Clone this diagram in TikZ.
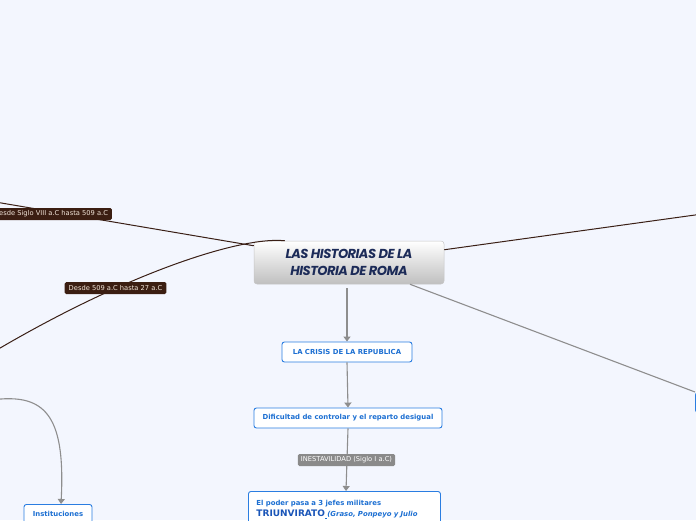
\documentclass[tikz,border=0pt]{standalone}
\usepackage{fontspec}
\setmainfont{DejaVu Sans}
\newfontfamily\titlefont[LetterSpace=-4]{Poppins}
\usetikzlibrary{arrows.meta,calc}
\definecolor{bg}{HTML}{F3F6FE}
\definecolor{brownline}{HTML}{3A1F16}
\definecolor{labelbrown}{HTML}{3B1E12}
\definecolor{labeltext}{HTML}{F2E6DA}
\definecolor{grayline}{HTML}{8E8E8E}
\definecolor{graylabel}{HTML}{8A8A8A}
\definecolor{blueb}{HTML}{2A7DE1}
\definecolor{bluet}{HTML}{1C6FD2}
\definecolor{bluedark}{HTML}{1A55B8}
\definecolor{navy}{HTML}{1C2B58}
\tikzset{
  central/.style={rounded corners=3pt, draw=gray!45, line width=0.5pt, top color=white, bottom color=gray!50,
    minimum width=190pt, minimum height=43pt, align=center, text=navy,
    font=\titlefont\bfseries\itshape\fontsize{13}{17.5}\selectfont},
  bluebox/.style={rounded corners=2.5pt, draw=blueb, line width=0.9pt, fill=white, text=bluet,
    minimum height=20pt, inner sep=0pt, font=\bfseries\fontsize{6.9}{8}\selectfont},
  brownlabel/.style={rounded corners=1.5pt, fill=labelbrown, text=labeltext, inner xsep=4pt, inner ysep=0pt,
    minimum height=12pt, font=\fontsize{6.7}{7.5}\selectfont},
  graylabelbox/.style={rounded corners=1.5pt, fill=graylabel, text=white, inner xsep=3pt, inner ysep=0pt,
    minimum height=12pt, font=\fontsize{6.7}{7.5}\selectfont},
  brownedge/.style={draw=brownline, line width=1pt},
  grayedge/.style={draw=grayline, line width=1.1pt},
  grayarrow/.style={grayedge, -{Triangle[length=5pt,width=7pt]}},
}
\begin{document}
\begin{tikzpicture}[x=1pt,y=-1pt]
\useasboundingbox (0,0) rectangle (696,520);
\fill[bg] (0,0) rectangle (696,520);

% off-screen ends
\coordinate (leftA) at (-40,196);
\coordinate (leftB) at (-20,360);
\coordinate (rightA) at (760,206);
\coordinate (leftC) at (-30,404);

% nodes
\node[central] (c) at (349,262.5) {LAS HISTORIAS DE LA\\HISTORIA DE ROMA};
\node[bluebox, minimum width=130pt] (crisis) at (347,352) {LA CRISIS DE LA REPUBLICA};
\node[bluebox, minimum width=188pt] (dif) at (348,418) {Dificultad de controlar y el reparto desigual};
\node[bluebox, anchor=north west, minimum width=192pt, minimum height=46pt, text width=176pt,
      inner xsep=8pt, inner ysep=4pt, align=left, font=\bfseries\fontsize{6.9}{11.5}\selectfont] (tri) at (248,491)
  {El poder pasa a 3 jefes militares\\
   {\fontsize{9}{11.5}\selectfont\color{bluedark}TRIUNVIRATO}\underline{\ }{\itshape(Graso, Ponpeyo y Julio}\\
   {\itshape Cesar)}};
\node[bluebox, minimum width=68pt, anchor=north] (inst) at (58,504) {\raisebox{2pt}{Instituciones}};
\node[bluebox, minimum width=60pt, anchor=north west] (rn) at (695,392) {};

% connectors
\draw[brownedge] (leftA) -- ([yshift=-5pt]c.north west);
\draw[brownedge] ([xshift=31pt]c.north west) .. controls (240,236) and (120,275) .. (leftB);
\draw[brownedge] ([yshift=-9pt]c.north east) -- (rightA);
\draw[grayedge] ($(c.south west)!0.82!(c.south east)$) -- (rn.north west);
\draw[grayarrow] ([yshift=-4pt]c.south -| crisis.north) -- (crisis.north);
\draw[grayarrow] (crisis.south) -- (dif.north);
\draw[grayarrow] (dif.south) -- ([xshift=98pt]tri.north west);
\draw[grayarrow] (leftC) .. controls (40,388) and (66,405) .. ([xshift=3pt]inst.north);

% labels
\node[brownlabel] (l1) at (51,214) {Desde Siglo VIII a.C hasta 509 a.C};
\node[brownlabel] (l2) at (115.5,288) {Desde 509 a.C hasta 27 a.C};
\node[graylabelbox] (l3) at (346.5,460) {INESTAVILIDAD (Siglo I a.C)};
\end{tikzpicture}
\end{document}
